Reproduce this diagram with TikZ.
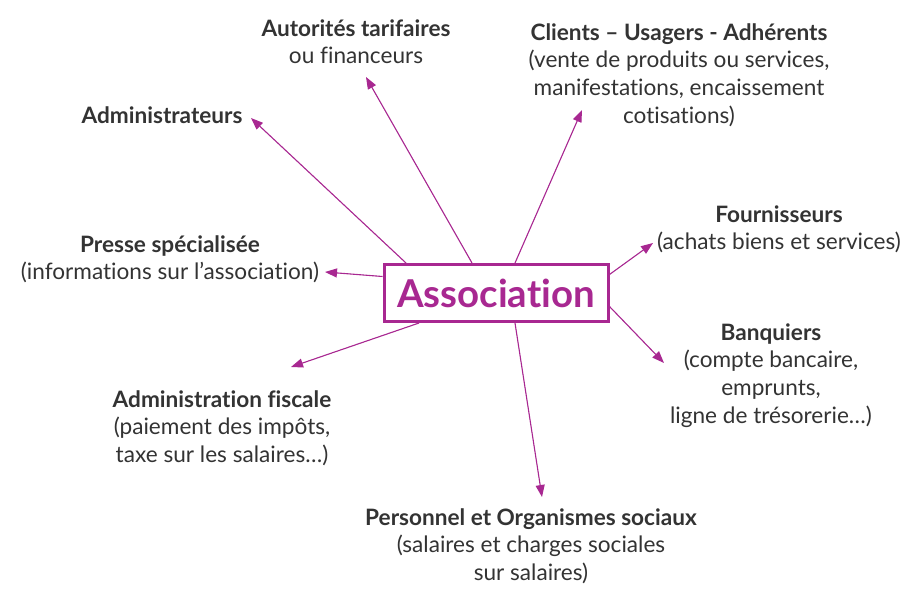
\documentclass[tikz,border=0pt]{standalone}
\usepackage{fontspec}
\setmainfont{Lato}[Ligatures={NoCommon,NoRequired,NoContextual}]
\usetikzlibrary{arrows.meta,positioning}
\definecolor{assocmag}{RGB}{168,40,145}
\definecolor{ink}{RGB}{51,51,51}
\tikzset{>={Triangle[width=9pt,length=12pt]}}
\tikzset{assocbox/.style={draw=assocmag, line width=3pt, fill=white, inner sep=0pt,
    minimum width=224pt, minimum height=57pt, text=assocmag,
    font=\fontsize{38.4}{46}\selectfont\bfseries}}
\tikzset{partner/.style={align=center, text=ink, anchor=north, inner sep=0pt,
    font=\fontsize{22.6}{27.7}\selectfont}}
\tikzset{link/.style={->, draw=assocmag, fill=assocmag, line width=1.1pt}}

\begin{document}
\begin{tikzpicture}[x=1pt, y=-1pt]
    \useasboundingbox (0,0) rectangle (920,604);

    %%%% Centre
    \node[assocbox](assoc) at (496,293) {Association};

    %%%% Partners
    \node[partner](autorites) at (356,16.6)   {\strut\textbf{Autorités tarifaires}\\ou financeurs};
    \node[partner](admin) at (162,103.6)      {\strut\textbf{Administrateurs}};
    \node[partner](clients) at (679,20.6)     {\strut\textbf{Clients – Usagers - Adhérents}\\(vente de produits ou services,\\manifestations, encaissement\\cotisations)};
    \node[partner](fourn) at (779,202.6)      {\strut\textbf{Fournisseurs}\\(achats biens et services)};
    \node[partner](presse) at (170,232.6)     {\strut\textbf{Presse spécialisée}\\(informations sur l’association)};
    \node[partner](banq) at (771,320.6)       {\strut\textbf{Banquiers}\\(compte bancaire,\\emprunts,\\ligne de trésorerie…)};
    \node[partner](fisc) at (222,387.6)       {\strut\textbf{Administration fiscale}\\(paiement des impôts,\\taxe sur les salaires…)};
    \node[partner](perso) at (531,505.6)      {\strut\textbf{Personnel et Organismes sociaux}\\(salaires et charges sociales\\sur salaires)};

    %%%% Arrow tips
    \coordinate (tadmin) at (251,118);
    \coordinate (tautor) at (366,77);
    \coordinate (tclient) at (582,110);
    \coordinate (tfourn) at (653,243);
    \coordinate (tbanq) at (664,363);
    \coordinate (tperso) at (542,497);
    \coordinate (tfisc) at (291,367);
    \coordinate (tpresse) at (325,272);

    %%%% Links
    \draw [link] ([xshift=23.5pt]assoc.north west) to (tadmin);
    \draw [link] ([xshift=89.5pt]assoc.north west) to (tautor);
    \draw [link] ([xshift=132.5pt]assoc.north west) to (tclient);
    \draw [link] ([yshift=-11.5pt]assoc.north east) to (tfourn);
    \draw [link] ([yshift=-43.5pt]assoc.north east) to (tbanq);
    \draw [link] ([xshift=132.5pt]assoc.south west) to (tperso);
    \draw [link] ([xshift=36.5pt]assoc.south west) to (tfisc);
    \draw [link] ([yshift=-13.5pt]assoc.north west) to (tpresse);
\end{tikzpicture}
\end{document}
